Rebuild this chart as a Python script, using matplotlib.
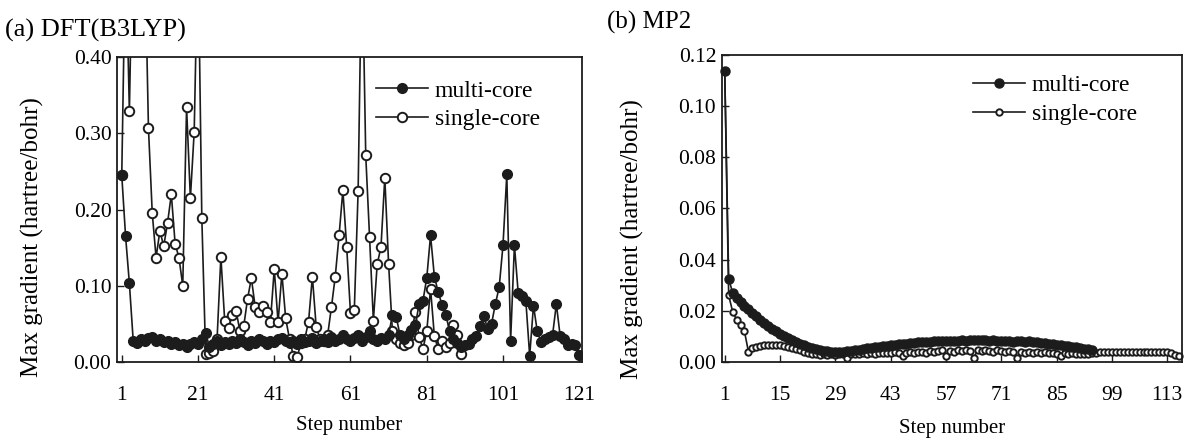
import matplotlib
matplotlib.use("Agg")
import matplotlib.pyplot as plt

plt.rcParams.update({
    "font.family": ["Liberation Serif", "DejaVu Serif"],
    "font.size": 15.5,
})

INK = "#1c1c1c"

# ---- (a) DFT(B3LYP): max gradient per optimisation step ----
DFT_MULTI = [
    0.245, 0.165, 0.103, 0.028, 0.025, 0.030, 0.027, 0.032, 0.033, 0.028,
    0.030, 0.026, 0.028, 0.024, 0.026, 0.022, 0.024, 0.020, 0.023, 0.026,
    0.024, 0.030, 0.038, 0.020, 0.024, 0.027, 0.022, 0.026, 0.024, 0.028,
    0.025, 0.030, 0.026, 0.022, 0.028, 0.025, 0.030, 0.027, 0.024, 0.028,
    0.026, 0.030, 0.032, 0.027, 0.025, 0.028, 0.024, 0.030, 0.026, 0.028,
    0.032, 0.025, 0.028, 0.030, 0.026, 0.033, 0.028, 0.030, 0.035, 0.030,
    0.027, 0.032, 0.035, 0.028, 0.033, 0.040, 0.030, 0.028, 0.032, 0.030,
    0.035, 0.062, 0.059, 0.035, 0.030, 0.036, 0.042, 0.048, 0.076, 0.080,
    0.110, 0.166, 0.112, 0.092, 0.075, 0.062, 0.040, 0.030, 0.025, 0.020,
    0.022, 0.024, 0.030, 0.034, 0.047, 0.060, 0.043, 0.050, 0.076, 0.098,
    0.153, 0.246, 0.028, 0.153, 0.090, 0.087, 0.080, 0.008, 0.074, 0.040,
    0.026, 0.030, 0.033, 0.035, 0.076, 0.034, 0.030, 0.022, 0.023, 0.022,
    0.009,
]
DFT_SINGLE = [
    0.245, 0.550, 0.329, 0.600, 0.600, 0.600, 0.550, 0.307, 0.195, 0.137,
    0.172, 0.152, 0.182, 0.220, 0.155, 0.137, 0.100, 0.334, 0.215, 0.302,
    0.550, 0.189, 0.010, 0.012, 0.014, 0.030, 0.138, 0.054, 0.045, 0.062,
    0.067, 0.040, 0.047, 0.083, 0.110, 0.072, 0.066, 0.074, 0.066, 0.053,
    0.122, 0.052, 0.116, 0.057, 0.030, 0.008, 0.006, 0.025, 0.030, 0.053,
    0.112, 0.046, 0.030, 0.028, 0.035, 0.072, 0.112, 0.166, 0.225, 0.151,
    0.064, 0.068, 0.224, 0.550, 0.271, 0.164, 0.054, 0.128, 0.151, 0.242,
    0.128, 0.040, 0.030, 0.025, 0.022, 0.025, 0.035, 0.066, 0.033, 0.017,
    0.040, 0.096, 0.034, 0.017, 0.028, 0.020, 0.025, 0.049, 0.035, 0.010,
]
DFT_XTICKS = [1, 21, 41, 61, 81, 101, 121]
DFT_YTICKS = [0.0, 0.1, 0.2, 0.3, 0.4]

# ---- (b) MP2 ----
MP2_MULTI = [
    0.1138, 0.0326, 0.0270, 0.0250, 0.0235, 0.0220, 0.0205, 0.0190, 0.0178, 0.0165,
    0.0153, 0.0140, 0.0130, 0.0120, 0.0110, 0.0100, 0.0092, 0.0085, 0.0078, 0.0072,
    0.0066, 0.0060, 0.0055, 0.0050, 0.0047, 0.0044, 0.0042, 0.0040, 0.0040, 0.0039,
    0.0040, 0.0041, 0.0043, 0.0045, 0.0048, 0.0050, 0.0053, 0.0055, 0.0058, 0.0060,
    0.0062, 0.0064, 0.0066, 0.0068, 0.0070, 0.0071, 0.0072, 0.0074, 0.0075, 0.0076,
    0.0077, 0.0079, 0.0078, 0.0080, 0.0081, 0.0080, 0.0082, 0.0081, 0.0083, 0.0082,
    0.0084, 0.0083, 0.0086, 0.0085, 0.0087, 0.0084, 0.0086, 0.0083, 0.0085, 0.0082,
    0.0083, 0.0080, 0.0082, 0.0079, 0.0080, 0.0081, 0.0078, 0.0082, 0.0079, 0.0076,
    0.0075, 0.0073, 0.0072, 0.0070, 0.0068, 0.0066, 0.0064, 0.0062, 0.0060, 0.0058,
    0.0055, 0.0052, 0.0050, 0.0047,
]
MP2_SINGLE = [
    0.1138, 0.0260, 0.0197, 0.0165, 0.0145, 0.0119, 0.0040, 0.0055, 0.0060, 0.0062,
    0.0065, 0.0066, 0.0066, 0.0066, 0.0065, 0.0064, 0.0060, 0.0055, 0.0050, 0.0045,
    0.0040, 0.0035, 0.0032, 0.0030, 0.0028, 0.0030, 0.0029, 0.0030, 0.0028, 0.0030,
    0.0031, 0.0015, 0.0030, 0.0032, 0.0030, 0.0033, 0.0031, 0.0034, 0.0032, 0.0035,
    0.0033, 0.0036, 0.0034, 0.0037, 0.0035, 0.0022, 0.0036, 0.0038, 0.0035, 0.0037,
    0.0040, 0.0036, 0.0042, 0.0038, 0.0041, 0.0045, 0.0025, 0.0043, 0.0040, 0.0046,
    0.0042, 0.0048, 0.0044, 0.0015, 0.0046, 0.0043, 0.0047, 0.0044, 0.0040, 0.0045,
    0.0042, 0.0038, 0.0041, 0.0037, 0.0015, 0.0040, 0.0036, 0.0039, 0.0035, 0.0038,
    0.0034, 0.0037, 0.0033, 0.0036, 0.0032, 0.0025, 0.0034, 0.0031, 0.0033, 0.0030,
    0.0032, 0.0030, 0.0031, 0.0033, 0.0036, 0.0037, 0.0038, 0.0038, 0.0037, 0.0038,
    0.0038, 0.0037, 0.0038, 0.0038, 0.0037, 0.0038, 0.0038, 0.0037, 0.0038, 0.0038,
    0.0037, 0.0038, 0.0037, 0.0035, 0.0028, 0.0025,
]
MP2_XTICKS = [1, 15, 29, 43, 57, 71, 85, 99, 113]
MP2_YTICKS = [0.00, 0.02, 0.04, 0.06, 0.08, 0.10, 0.12]


def draw_panel(ax, multi, single, ms_multi, ms_single, clip):
    steps_s = range(1, len(single) + 1)
    steps_m = range(1, len(multi) + 1)
    ax.plot(steps_s, single, "-o", color=INK, linewidth=1.2,
            markersize=ms_single, markerfacecolor="white",
            markeredgecolor=INK, markeredgewidth=1.4,
            label="single-core", clip_on=clip, zorder=2)
    ax.plot(steps_m, multi, "-o", color=INK, linewidth=1.2,
            markersize=ms_multi, markerfacecolor=INK, markeredgecolor=INK,
            label="multi-core", clip_on=clip, zorder=3)
    for sp in ax.spines.values():
        sp.set_linewidth(1.3)
        sp.set_color(INK)
    ax.tick_params(direction="in", length=5, width=1, color=INK, pad=4)
    ax.tick_params(axis="x", pad=17)
    ax.set_xlabel("Step number", fontsize=15)
    ax.set_ylabel("Max gradient (hartree/bohr)", fontsize=18)
    handles, labels = ax.get_legend_handles_labels()
    return handles[::-1], labels[::-1]


fig = plt.figure(figsize=(11.89, 4.43), dpi=100)

ax1 = fig.add_axes([0.0984, 0.183, 0.391, 0.688])
h, l = draw_panel(ax1, DFT_MULTI, DFT_SINGLE, 7, 6.8, True)
ax1.set_xlim(-0.25, 121.7)
ax1.set_ylim(0, 0.4)
ax1.set_xticks(DFT_XTICKS)
ax1.set_yticks(DFT_YTICKS)
ax1.set_yticklabels([f"{v:.2f}" for v in DFT_YTICKS])
ax1.yaxis.set_label_coords(-0.158, 0.41)
ax1.xaxis.set_label_coords(0.5, -0.177)
ax1.legend(h, l, loc="upper left", bbox_to_anchor=(0.557, 0.925), frameon=False,
           borderpad=0, borderaxespad=0, handlelength=2.2, handletextpad=0.3,
           labelspacing=0.3, fontsize=17)

ax2 = fig.add_axes([0.607, 0.183, 0.387, 0.693])
h, l = draw_panel(ax2, MP2_MULTI, MP2_SINGLE, 6.5, 4.6, False)
ax2.set_xlim(0.24, 116.7)
ax2.set_ylim(0, 0.12)
ax2.set_xticks(MP2_XTICKS)
ax2.set_yticks(MP2_YTICKS)
ax2.set_yticklabels([f"{v:.2f}" for v in MP2_YTICKS])
ax2.yaxis.set_label_coords(-0.168, 0.40)
ax2.xaxis.set_label_coords(0.5, -0.186)
ax2.legend(h, l, loc="upper left", bbox_to_anchor=(0.546, 0.935), frameon=False,
           borderpad=0, borderaxespad=0, handlelength=2.2, handletextpad=0.3,
           labelspacing=0.3, fontsize=17)

fig.text(0.004, 0.932, "(a) DFT(B3LYP)", fontsize=19, va="center", ha="left")
fig.text(0.5105, 0.95, "(b) MP2", fontsize=18, va="center", ha="left")

fig.savefig("out.png", dpi=100)
